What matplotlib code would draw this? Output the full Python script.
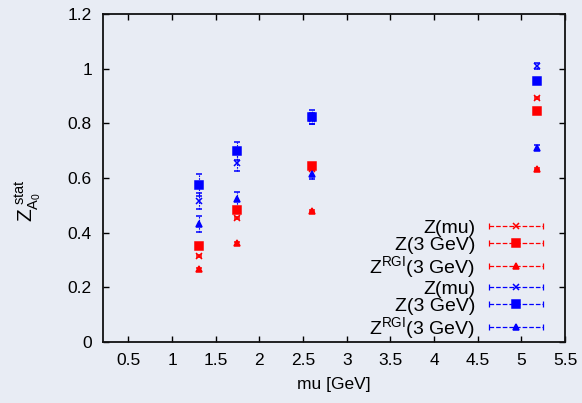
import numpy as np
import matplotlib
matplotlib.use("Agg")
import matplotlib.pyplot as plt
from matplotlib.lines import Line2D
from matplotlib.legend_handler import HandlerBase
from matplotlib.ticker import FuncFormatter, MultipleLocator

plt.rcParams['font.family'] = ['Liberation Sans', 'DejaVu Sans']
plt.rcParams['mathtext.fontset'] = 'custom'
plt.rcParams['mathtext.rm'] = 'Liberation Sans'
plt.rcParams['mathtext.it'] = 'Liberation Sans'

# data
mu = [1.31, 1.745, 2.60, 5.18]

red_mu = [0.316, 0.455, 0.633, 0.892]
red_3gev = [0.351, 0.483, 0.644, 0.846]
red_rgi = [0.266, 0.361, 0.480, 0.633]
red_err = [0.004, 0.004, 0.004, 0.004]

blue_mu = [0.517, 0.657, 0.818, 1.010]
blue_mu_err = [0.030, 0.030, 0.020, 0.012]
blue_3gev = [0.574, 0.700, 0.824, 0.955]
blue_3gev_err = [0.040, 0.033, 0.027, 0.012]
blue_rgi = [0.432, 0.522, 0.615, 0.712]
blue_rgi_err = [0.030, 0.026, 0.020, 0.008]

labels = ['Z(mu)', 'Z(3 GeV)', r'$\mathregular{Z^{RGI}}$(3 GeV)']
markers = ['x', 's', '^']
msizes = [4.5, 5.5, 4]
lstyles = [(0, (4, 2)), (0, (5, 2, 1, 2)), (0, (1.5, 1.5))]

bg = '#e8ecf4'


class CapHandler(HandlerBase):
    # gnuplot-like key sample: line, caps at both ends, marker in the middle
    def create_artists(self, legend, orig, xdescent, ydescent, width, height,
                       fontsize, trans):
        y = (height - ydescent) / 2.0
        x0, x1 = -xdescent, -xdescent + width
        c = orig.get_color()
        line = Line2D([x0, x1], [y, y], color=c, lw=0.9, ls=orig.get_linestyle())
        caps = Line2D([x0, x1], [y, y], color=c, ls='none', marker='|',
                      ms=5, mew=0.9)
        mk = Line2D([(x0 + x1) / 2], [y], color=c, ls='none',
                    marker=orig.get_marker(), ms=orig.get_markersize(),
                    mew=orig.get_markeredgewidth())
        for a in (line, caps, mk):
            a.set_transform(trans)
        return [line, caps, mk]


fig = plt.figure(figsize=(5.82, 4.03), dpi=100, facecolor=bg)
ax = fig.add_axes([0.177, 0.151, 0.794, 0.814], facecolor=bg)

handles = []
groups = [
    ('red', [red_mu, red_3gev, red_rgi], [red_err, red_err, red_err]),
    ('blue', [blue_mu, blue_3gev, blue_rgi], [blue_mu_err, blue_3gev_err, blue_rgi_err]),
]
for color, series, errs in groups:
    for vals, err, lab, m, ms, ls in zip(series, errs, labels, markers, msizes, lstyles):
        eb = ax.errorbar(mu, vals, yerr=err, fmt=m, color=color, ms=ms,
                         mew=1.1, elinewidth=0.8, capsize=2.2, capthick=0.8)
        for bl in eb[2]:
            bl.set_linestyle((0, (1.5, 1)))
        h = Line2D([], [], color=color, ls=ls, marker=m, ms=ms, mew=1.1)
        handles.append((h, lab))

ax.set_xlim(0.21, 5.5)
ax.set_ylim(0, 1.2)
ax.yaxis.set_major_locator(MultipleLocator(0.2))
fmt = FuncFormatter(lambda v, p: '%g' % round(v, 3))
ax.xaxis.set_major_formatter(fmt)
ax.yaxis.set_major_formatter(fmt)
ax.set_xticks([t for t in np.arange(0.5, 5.51, 0.5)])

ax.tick_params(direction='in', length=4, width=1, top=True, right=True,
               labelsize=12.5, colors='black')
ax.tick_params(axis='x', pad=8)
ax.tick_params(axis='y', pad=8)
for s in ax.spines.values():
    s.set_linewidth(1.3)
    s.set_color('#111111')

ax.set_xlabel('mu [GeV]', fontsize=12.5, labelpad=6)
ax.set_ylabel(r'$\mathregular{Z_{A_0}^{\ stat}}$', fontsize=15)
ax.yaxis.set_label_coords(-0.13, 0.43)

leg = ax.legend([h for h, _ in handles], [l for _, l in handles],
                handler_map={Line2D: CapHandler()},
                loc='lower right', bbox_to_anchor=(0.955, 0.0),
                frameon=False, markerfirst=False, fontsize=14,
                handlelength=2.8, handletextpad=0.7, labelspacing=0.0,
                borderaxespad=0, borderpad=0.05)

fig.savefig('out.png', dpi=100, facecolor=bg)
